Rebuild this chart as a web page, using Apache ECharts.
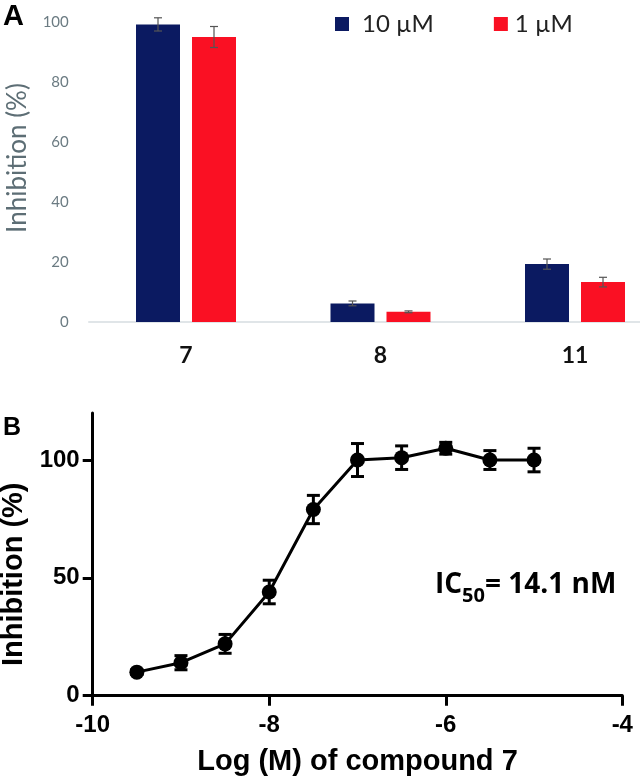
<!DOCTYPE html>
<html>
<head>
<meta charset="utf-8">
<script src="https://cdn.jsdelivr.net/npm/echarts@6/dist/echarts.min.js"></script>
<style>
html,body{margin:0;padding:0;background:#fff;}
#chart{width:640px;height:778px;}
</style>
</head>
<body>
<div id="chart"></div>
<script>
// ---- Panel A data ----
var categories = ['7', '8', '11'];
var seriesNames = ['10 \u00B5M', '1 \u00B5M'];
var val10uM = [99.2, 6.2, 19.3];
var err10uM = [2.2, 0.8, 1.7];
var val1uM = [95.0, 3.4, 13.3];
var err1uM = [3.5, 0.3, 1.6];
var yTicksA = [0, 20, 40, 60, 80, 100];

// ---- Panel B data ----
var logConc = [-9.5, -9, -8.5, -8, -7.5, -7, -6.5, -6, -5.5, -5];
var inhibition = [10, 14, 22, 44, 79, 100, 101, 105, 100, 100];
var inhibitionErr = [1, 3, 4, 5, 6, 7, 5, 2.5, 4, 5];
var xTicksB = [-10, -8, -6, -4];
var yTicksB = [0, 50, 100];

var BLUE = '#0b1a61';
var RED = '#fa1023';
var BAR_W = 44, BAR_GAP = 12;

function errA(vals, errs, side) {
  return vals.map(function (v, i) { return [i, v, errs[i], side]; });
}

function renderErrA(params, api) {
  var ci = api.value(0), v = api.value(1), e = api.value(2), side = api.value(3);
  var off = side * (BAR_W + BAR_GAP) / 2;
  var top = api.coord([ci, v + e]);
  var bot = api.coord([ci, v - e]);
  var x = top[0] + off, cw = 4;
  var st = { stroke: '#555', lineWidth: 1.2 };
  return { type: 'group', children: [
    { type: 'line', shape: { x1: x, y1: top[1], x2: x, y2: bot[1] }, style: st },
    { type: 'line', shape: { x1: x - cw, y1: top[1], x2: x + cw, y2: top[1] }, style: st },
    { type: 'line', shape: { x1: x - cw, y1: bot[1], x2: x + cw, y2: bot[1] }, style: st }
  ]};
}

function renderErrB(params, api) {
  var xv = api.value(0), v = api.value(1), e = api.value(2);
  var top = api.coord([xv, v + e]);
  var bot = api.coord([xv, v - e]);
  var x = top[0], cw = 6.5;
  var st = { stroke: '#000', lineWidth: 3 };
  return { type: 'group', children: [
    { type: 'line', shape: { x1: x, y1: top[1], x2: x, y2: bot[1] }, style: st },
    { type: 'line', shape: { x1: x - cw, y1: top[1], x2: x + cw, y2: top[1] }, style: st },
    { type: 'line', shape: { x1: x - cw, y1: bot[1], x2: x + cw, y2: bot[1] }, style: st }
  ]};
}

var chart = echarts.init(document.getElementById('chart'), null, { renderer: 'canvas' });

var option = {
  animation: false,
  backgroundColor: '#ffffff',
  title: [
    { text: 'A', left: 3, top: 2, padding: 0, textStyle: { fontFamily: 'Liberation Sans', fontWeight: 'bold', fontSize: 29, color: '#000' } },
    { text: 'B', left: 3, top: 416, padding: 0, textStyle: { fontFamily: 'Liberation Sans', fontWeight: 'bold', fontSize: 25, color: '#000' } }
  ],
  legend: {
    left: 335, top: 12, padding: 0,
    itemWidth: 14, itemHeight: 14, itemGap: 60,
    icon: 'rect',
    data: [
      { name: seriesNames[0], textStyle: { padding: [0, 0, 0, 8] } },
      { name: seriesNames[1], textStyle: { padding: [0, 0, 0, 2] } }
    ],
    textStyle: { fontFamily: 'Lato', fontSize: 24, color: '#222' }
  },
  graphic: [
    {
      type: 'text', left: 435, top: 571,
      style: {
        text: '{a|IC}{b|50}{a|= 14.1 nM}',
        rich: {
          a: { fontFamily: 'Open Sans', fontWeight: 'bold', fontSize: 28, color: '#111', verticalAlign: 'bottom' },
          b: { fontFamily: 'Open Sans', fontWeight: 'bold', fontSize: 20, color: '#111', padding: [0, 0, -7, 0], verticalAlign: 'bottom' }
        }
      }
    }
  ],
  grid: [
    { left: 88.75, width: 583.5, top: 22, height: 300, outerBoundsMode: 'none', containLabel: false },
    { left: 92.7, width: 529.6, top: 412.9, height: 282.8, outerBoundsMode: 'none', containLabel: false }
  ],
  xAxis: [
    {
      type: 'category', gridIndex: 0, data: categories,
      axisLine: { lineStyle: { color: '#d6dde1', width: 1.5 } },
      axisTick: { show: false },
      axisLabel: { margin: 22, fontFamily: 'Lato', fontWeight: 'bold', fontSize: 23, color: '#111' }
    },
    {
      type: 'value', gridIndex: 1, min: -10, max: -4, interval: 2,
      name: 'Log (M) of compound 7', nameLocation: 'middle', nameGap: 52,
      nameTextStyle: { fontFamily: 'Liberation Sans', fontWeight: 'bold', fontSize: 29, color: '#000' },
      axisLine: { onZero: false, lineStyle: { color: '#000', width: 3 } },
      axisTick: { length: 10, lineStyle: { color: '#000', width: 3 } },
      axisLabel: { margin: 18, fontFamily: 'Liberation Sans', fontWeight: 'bold', fontSize: 24, color: '#000' },
      splitLine: { show: false }
    }
  ],
  yAxis: [
    {
      type: 'value', gridIndex: 0, min: 0, max: 100, interval: 20,
      name: 'Inhibition (%)', nameLocation: 'middle', nameGap: 58,
      nameTextStyle: { fontFamily: 'Lato', fontSize: 26, color: '#5d6e75', padding: [0, 0, 0, 28] },
      axisLine: { show: false }, axisTick: { show: false },
      axisLabel: { margin: 20, fontFamily: 'Lato', fontSize: 15, color: '#6b7b82' },
      splitLine: { show: false }
    },
    {
      type: 'value', gridIndex: 1, min: 0, max: 120, interval: 50,
      name: 'Inhibition (%)', nameLocation: 'middle', nameGap: 60,
      nameTextStyle: { fontFamily: 'Liberation Sans', fontWeight: 'bold', fontSize: 29, color: '#000', padding: [0, 40, 0, 0] },
      axisLine: { onZero: false, lineStyle: { color: '#000', width: 3 } },
      axisTick: { length: 10, lineStyle: { color: '#000', width: 3 }, customValues: yTicksB },
      axisLabel: { margin: 13, fontFamily: 'Liberation Sans', fontWeight: 'bold', fontSize: 24, color: '#000', customValues: yTicksB },
      splitLine: { show: false }
    }
  ],
  series: [
    {
      name: seriesNames[0], type: 'bar', xAxisIndex: 0, yAxisIndex: 0,
      data: val10uM, barWidth: BAR_W, barGap: (BAR_GAP / BAR_W * 100) + '%',
      itemStyle: { color: BLUE }
    },
    {
      name: seriesNames[1], type: 'bar', xAxisIndex: 0, yAxisIndex: 0,
      data: val1uM, barWidth: BAR_W,
      itemStyle: { color: RED }
    },
    {
      type: 'custom', xAxisIndex: 0, yAxisIndex: 0, renderItem: renderErrA,
      data: errA(val10uM, err10uM, -1).concat(errA(val1uM, err1uM, 1)), z: 5, silent: true
    },
    {
      type: 'custom', xAxisIndex: 1, yAxisIndex: 1, renderItem: renderErrB,
      data: logConc.map(function (x, i) { return [x, inhibition[i], inhibitionErr[i]]; }), z: 5, silent: true
    },
    {
      type: 'line', xAxisIndex: 1, yAxisIndex: 1,
      data: logConc.map(function (x, i) { return [x, inhibition[i]]; }),
      symbol: 'circle', symbolSize: 15,
      lineStyle: { color: '#000', width: 3 },
      itemStyle: { color: '#000' }, z: 4
    }
  ]
};
chart.setOption(option);
</script>
</body>
</html>
